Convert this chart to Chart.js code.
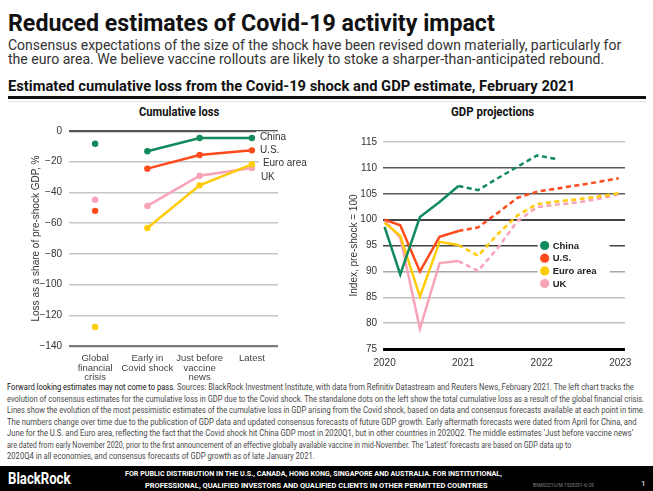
<!DOCTYPE html>
<html>
<head>
<meta charset="utf-8">
<script src="https://cdn.jsdelivr.net/npm/chart.js@4.4.1/dist/chart.umd.min.js"></script>
<style>
  body { margin: 0; background: #fff; }
  #page { position: relative; width: 653px; height: 491px; overflow: hidden; font-family: Roboto, "Liberation Sans", sans-serif; color: #222; }
  .t { position: absolute; white-space: nowrap; transform-origin: 0 0; line-height: 1; }
  canvas { position: absolute; }
  #footer { position: absolute; left: 0; top: 466px; width: 653px; height: 25px; background: #000; }
  .note { font-size: 8.2px; color: #4a4a4a; line-height: 11.5px; }
</style>
</head>
<body>
<div id="page">
  <div class="t" data-w="487" style="left:8px;top:12px;font-size:23px;font-weight:700;color:#111">Reduced estimates of Covid-19 activity impact</div>
  <div class="t" data-w="613" style="left:8px;top:38px;font-size:14px;color:#333">Consensus expectations of the size of the shock have been revised down materially, particularly for</div>
  <div class="t" data-w="596" style="left:8px;top:52px;font-size:14px;color:#333">the euro area. We believe vaccine rollouts are likely to stoke a sharper-than-anticipated rebound.</div>
  <div class="t" data-w="567" style="left:8px;top:79px;font-size:14px;font-weight:700;color:#111">Estimated cumulative loss from the Covid-19 shock and GDP estimate, February 2021</div>
  <div style="position:absolute;left:8px;top:96px;width:638px;height:3px;background:#111"></div>
  <div style="position:absolute;left:8px;top:101px;width:638px;height:1px;background:#e2e2e2"></div>

  <div class="t" data-w="80" data-c="179" style="top:106px;font-size:12px;font-weight:700;color:#111">Cumulative loss</div>
  <div class="t" data-w="83" data-c="492" style="top:106px;font-size:12px;font-weight:700;color:#111">GDP projections</div>

  <canvas id="lossChart" width="325" height="282" style="left:0;top:100px"></canvas>
  <canvas id="gdpChart" width="328" height="282" style="left:325px;top:100px"></canvas>

  <div class="t note" data-w="627" style="left:7px;top:382px"><span style="color:#111">Forward looking estimates may not come to pass.</span> Sources: BlackRock Investment Institute, with data from Refinitiv Datastream and Reuters News, February 2021. The left chart tracks the</div>
  <div class="t note" data-w="637" style="left:7px;top:393.5px">evolution of consensus estimates for the cumulative loss in GDP due to the Covid shock. The standalone dots on the left show the total cumulative loss as a result of the global financial crisis.</div>
  <div class="t note" data-w="638" style="left:7px;top:405px">Lines show the evolution of the most pessimistic estimates of the cumulative loss in GDP arising from the Covid shock, based on data and consensus forecasts available at each point in time.</div>
  <div class="t note" data-w="630" style="left:7px;top:416.5px">The numbers change over time due to the publication of GDP data and updated consensus forecasts of future GDP growth. Early aftermath forecasts were dated from April for China, and</div>
  <div class="t note" data-w="626" style="left:7px;top:428px">June for the U.S. and Euro area, reflecting the fact that the Covid shock hit China GDP most in 2020Q1, but in other countries in 2020Q2. The middle estimates ‘Just before vaccine news’</div>
  <div class="t note" data-w="564" style="left:7px;top:439.5px">are dated from early November 2020, prior to the first announcement of an effective globally available vaccine in mid-November. The ‘Latest’ forecasts are based on GDP data up to</div>
  <div class="t note" data-w="308" style="left:7px;top:451px">2020Q4 in all economies, and consensus forecasts of GDP growth as of late January 2021.</div>

  <div id="footer"></div>
  <div class="t" data-w="64" style="left:8px;top:471px;font-size:16px;font-weight:700;color:#fff">BlackRock<span style="font-size:5px">.</span></div>
  <div class="t" data-w="377" style="left:125px;top:470px;font-size:8px;font-weight:700;color:#fff">FOR PUBLIC DISTRIBUTION IN THE U.S., CANADA, HONG KONG, SINGAPORE AND AUSTRALIA. FOR INSTITUTIONAL,</div>
  <div class="t" data-w="343" style="left:145px;top:482px;font-size:8px;font-weight:700;color:#fff">PROFESSIONAL, QUALIFIED INVESTORS AND QUALIFIED CLIENTS IN OTHER PERMITTED COUNTRIES</div>
  <div class="t" data-w="61" style="left:533px;top:483px;font-size:5px;color:#888">BIIM0221U/M-1529291-6/29</div>
  <div class="t" style="left:641px;top:480px;font-size:8px;color:#fff">1</div>
</div>

<script>
// text fitting to the reference widths
document.querySelectorAll('[data-w]').forEach(el => {
  const w = parseFloat(el.dataset.w);
  const nat = el.scrollWidth;
  el.style.transform = 'scaleX(' + (w / nat) + ')';
  if (el.dataset.c) el.style.left = (parseFloat(el.dataset.c) - w / 2) + 'px';
});

// ---- data ----
const countries = ['China', 'U.S.', 'Euro area', 'UK'];
const countryColors = ['#118a5c', '#ff4a1c', '#ffcb05', '#f9a3b9'];

// cumulative loss, % of pre-shock GDP
const lossCategories = [['Global', 'financial', 'crisis'], ['Early in', 'Covid shock'], ['Just before', 'vaccine', 'news'], ['Latest']];
const lossChina = [-8.3, -13.2, -4.6, -4.6];
const lossUS = [-52, -24.5, -15.6, -12.6];
const lossEuro = [-127.6, -63.2, -35.4, -21.7];
const lossUK = [-44.7, -48.8, -29.1, -24.1];
const lossLabelY = [-4.1, -12.8, -21, -30.4];
const lossTicks = [0, -20, -40, -60, -80, -100, -120, -140];

// GDP index, pre-shock = 100
const gdpYears = [2020.0, 2020.2, 2020.45, 2020.7, 2020.94, 2021.19, 2021.44, 2021.69, 2021.94, 2022.19, 2022.44, 2022.69, 2022.98];
const gdpChina = [98.6, 89.4, 100.5, 103.4, 106.5, 105.7, 108.0, 110.2, 112.4, 111.7];
const gdpUS = [100.0, 98.9, 90.0, 96.7, 97.8, 98.5, 101.3, 104.2, 105.4, 106.0, 106.6, 107.2, 108.0];
const gdpEuro = [99.4, 96.9, 85.1, 95.7, 95.1, 93.0, 97.2, 100.8, 103.0, 103.5, 103.9, 104.4, 105.1];
const gdpUK = [99.8, 96.5, 78.9, 91.6, 92.0, 90.1, 94.5, 99.7, 102.4, 102.9, 103.3, 103.9, 104.9];
const gdpForecastFrom = 4; // segments after this index are dashed
const yearTicks = [2020, 2021, 2022, 2023];

const tickFont = { family: '"Liberation Sans", Arial, sans-serif', size: 10 };

// ---- left chart ----
const lossLabels = {
  id: 'lossLabels',
  afterDatasetsDraw(chart) {
    const { ctx, scales: { x, y } } = chart;
    const dx = [8, 8, 11, 9];
    ctx.save();
    ctx.font = '10px "Liberation Sans", Arial, sans-serif';
    ctx.textBaseline = 'middle';
    countries.forEach((name, i) => {
      const px = x.getPixelForValue(lossCategories.length - 1) + dx[i];
      const py = y.getPixelForValue(lossLabelY[i]);
      const w = ctx.measureText(name).width;
      ctx.fillStyle = '#fff';
      ctx.fillRect(px - 4, py - 6, w + 6, 12);
      ctx.fillStyle = '#333';
      ctx.fillText(name, px, py);
    });
    ctx.restore();
  }
};

const lossSeries = [lossChina, lossUS, lossEuro, lossUK];
new Chart(document.getElementById('lossChart'), {
  type: 'line',
  data: {
    labels: lossCategories,
    datasets: lossSeries.map((vals, i) => ({
      label: countries[i],
      data: vals,
      borderColor: countryColors[i],
      backgroundColor: countryColors[i],
      borderWidth: 2.5,
      pointRadius: 3.2,
      pointBorderWidth: 0,
      tension: 0,
      segment: { borderColor: ctx => ctx.p0DataIndex === 0 ? 'rgba(0,0,0,0)' : undefined }
    }))
  },
  options: {
    responsive: false,
    animation: false,
    devicePixelRatio: 1,
    layout: { padding: { left: 30, right: 47, top: 31, bottom: 0 } },
    plugins: { legend: { display: false }, tooltip: { enabled: false } },
    scales: {
      x: {
        offset: true,
        grid: { display: false },
        border: { display: false },
        ticks: { font: { ...tickFont, size: 9.5, lineHeight: 0.98 }, color: '#444', padding: 0, maxRotation: 0, autoSkip: false },
        afterFit: s => { s.height = 36; }
      },
      y: {
        min: -140, max: 0,
        afterBuildTicks: axis => { axis.ticks = lossTicks.map(v => ({ value: v })); },
        grid: {
          drawTicks: false,
          color: c => c.tick.value === 0 ? '#555' : c.tick.value === -140 ? '#7a7a7a' : '#c6c6c6',
          lineWidth: c => (c.tick.value === 0 || c.tick.value === -140) ? 2.2 : 1.5
        },
        border: { display: false },
        ticks: { font: tickFont, color: '#333', padding: 7, callback: v => String(v).replace('-', '\u2212') },
        title: { display: true, text: 'Loss as a share of pre-shock GDP, %', font: tickFont, color: '#333', padding: 0 },
        afterFit: s => { s.width = 39; }
      }
    }
  },
  plugins: [lossLabels]
});

// ---- right chart ----
const gdpLegend = {
  id: 'gdpLegend',
  beforeDatasetsDraw(chart) {
    const { ctx, chartArea: a, scales: { y } } = chart;
    const x0 = a.left + a.width * 0.668;
    const y0 = y.getPixelForValue(95);
    ctx.save();
    ctx.fillStyle = '#fff';
    ctx.fillRect(x0 - 7, y0 - 7, 72, 52);
    ctx.font = 'bold 9.5px "Liberation Sans", Arial, sans-serif';
    ctx.textBaseline = 'middle';
    countries.forEach((name, i) => {
      const cy = y0 + i * 12.7;
      ctx.fillStyle = countryColors[i];
      ctx.beginPath();
      ctx.arc(x0, cy, 4.6, 0, Math.PI * 2);
      ctx.fill();
      ctx.fillStyle = '#222';
      ctx.fillText(name, x0 + 8, cy + 0.5);
    });
    ctx.restore();
  }
};

const gdpSeries = [gdpChina, gdpUS, gdpEuro, gdpUK];
const gridShade = { 115: '#c8c8c8', 110: '#5a5a5a', 105: '#5a5a5a', 100: '#444', 95: '#444', 90: '#a8a8a8', 85: '#c0c0c0', 80: '#c0c0c0', 75: '#000' };
new Chart(document.getElementById('gdpChart'), {
  type: 'line',
  data: {
    datasets: gdpSeries.map((vals, i) => ({
      label: countries[i],
      data: vals.map((v, k) => ({ x: gdpYears[k], y: v })),
      borderColor: countryColors[i],
      borderWidth: 2.5,
      pointRadius: 0,
      tension: 0,
      segment: { borderDash: ctx => ctx.p0DataIndex >= gdpForecastFrom ? [5, 3.5] : undefined }
    }))
  },
  options: {
    responsive: false,
    animation: false,
    devicePixelRatio: 1,
    layout: { padding: { left: 23, right: 28, top: 42, bottom: 0 } },
    plugins: { legend: { display: false }, tooltip: { enabled: false } },
    scales: {
      x: {
        type: 'linear',
        min: 2019.98, max: 2023.06,
        afterBuildTicks: axis => { axis.ticks = yearTicks.map(v => ({ value: v })); },
        grid: { display: false },
        border: { display: false },
        ticks: { font: tickFont, color: '#333', padding: 0, callback: v => String(v) },
        afterFit: s => { s.height = 33; }
      },
      y: {
        min: 75, max: 115,
        ticks: { stepSize: 5, font: tickFont, color: '#333', padding: 6 },
        grid: {
          drawTicks: false,
          color: c => gridShade[c.tick.value] || '#c0c0c0',
          lineWidth: c => c.tick.value === 75 ? 3 : c.tick.value === 100 ? 2 : 1.5
        },
        border: { display: false },
        title: { display: true, text: 'Index, pre-shock = 100', font: tickFont, color: '#333', padding: 0 },
        afterFit: s => { s.width = 35; }
      }
    }
  },
  plugins: [gdpLegend]
});
</script>
</body>
</html>
